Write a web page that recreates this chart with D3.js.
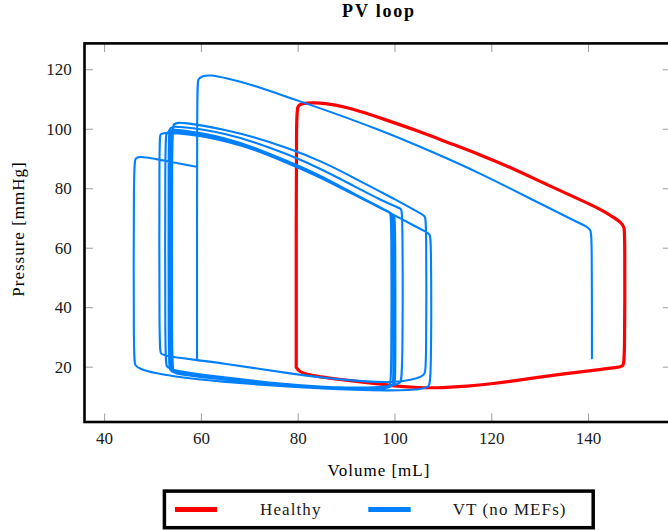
<!DOCTYPE html>
<html>
<head>
<meta charset="utf-8">
<script src="https://cdn.jsdelivr.net/npm/d3@7"></script>
<style>
  html, body { margin: 0; padding: 0; background: #fff; }
  svg { display: block; }
  svg text { font-family: "Liberation Serif", "Times New Roman", "DejaVu Serif", serif; }
</style>
</head>
<body>
<svg id="chart" width="668" height="530"></svg>
<script>
// ---------- data ----------
const xTicks = [40, 60, 80, 100, 120, 140];
const yTicks = [20, 40, 60, 80, 100, 120];
const seriesNames = ["Healthy", "VT (no MEFs)"];
const seriesColors = ["#ff0000", "#0080ff"];

// Healthy PV loop [volume mL, pressure mmHg]
const healthyLoop = [
  [79.7, 19.8], [79.7, 60], [79.7, 106.3], [80.1, 107.9], [81.2, 108.6], [83, 108.8], [86, 108.5],
  [90, 107.3], [94, 105.3], [97.1, 103.6], [105, 99.2], [111, 95.4], [117.8, 91.2], [124, 87.0],
  [131, 81.6], [138.4, 76.1], [142.5, 73.0], [145.3, 70.2], [146.9, 68.4], [147.5, 66.8],
  [147.6, 64.5], [147.6, 21.2], [147.2, 20.2], [146, 19.7], [140, 18.6], [135, 17.6], [130, 16.5],
  [125, 15.3], [120, 14.2], [115, 13.4], [110, 12.9], [105, 12.9], [100, 13.5], [95, 14.5],
  [88.8, 15.7], [84.5, 16.6], [81.8, 17.4], [80.3, 18.4], [79.7, 19.8]
];

// VT first (transient) beat
const vtFirstBeat = [
  [140.8, 22.8], [140.8, 64.6], [140.5, 66.0], [139.6, 67.2], [138.4, 68.1], [130, 74.9],
  [117.8, 85.0], [108, 92.1], [97.1, 99.6], [84.7, 106.9], [79.2, 109.9], [70.9, 114.7],
  [65, 117.1], [61.9, 118.1], [60.3, 117.8], [59.4, 116.7], [59.2, 114.8], [59.2, 22.2]
];

// VT following beats
const vtBeats = [
  [59.2, 87.2], [55, 88.5], [51, 89.7], [48.6, 90.4], [47.3, 90.6], [46.5, 90.1], [46.1, 88.8],
  [46.1, 22.0], [46.4, 20.4], [47.3, 19.3], [50.2, 17.9], [56, 16.3], [64, 15.0], [75, 13.6],
  [84.7, 12.7], [92, 12.2], [98.5, 12.0], [103, 12.1], [105.8, 12.5], [107.1, 13.3], [107.6, 14.8],
  [107.6, 63.2], [107.3, 64.5], [106.5, 65.4], [104, 67.4], [101.9, 69.3], [98, 72.6], [95, 75.2],
  [90, 79.6], [84.7, 84.3], [78, 89.1], [70.9, 93.7], [65, 96.6], [60, 98.5], [56, 99.5],
  [54.2, 99.8], [53.5, 99.2], [53.3, 97.8],
  [53.3, 20.0], [53.6, 18.7], [54.8, 17.9], [60, 17.0], [64, 16.3], [70, 15.1], [77, 14.0],
  [84.7, 13.1], [92, 12.6], [97, 12.7], [99.4, 13.3], [100.1, 14.2], [100.2, 15.5],
  [100.2, 69.8], [99.9, 71.0], [99.2, 71.7], [97.1, 73.5], [92, 77.9], [84.7, 84.1], [78, 88.9],
  [70.9, 93.9], [65, 96.8], [60, 98.6], [56, 99.5], [54.4, 99.8], [53.8, 99.3], [53.6, 98.0],
  [53.6, 19.3], [53.9, 18.3], [55.2, 17.7], [60, 16.7], [64, 16.0], [70, 14.9], [77, 13.8],
  [84.7, 12.9], [92, 12.4], [97, 12.4], [99.1, 13.0], [99.7, 13.9], [99.8, 15.2],
  [99.8, 70.3], [99.5, 71.4], [98.8, 72.0], [97.1, 73.4], [92, 77.7], [84.7, 83.9], [78, 88.6],
  [70.9, 93.4], [65, 96.3], [60, 98.1], [56, 99.0], [53.8, 99.3], [52.9, 98.8], [52.6, 97.6],
  [52.6, 21.5], [52.9, 19.9], [54, 18.9], [58, 17.8], [64, 16.6], [70, 15.4], [77, 14.2],
  [84.7, 13.3], [92, 12.7], [97, 12.7], [99.0, 13.3], [99.4, 14.4],
  [99.4, 70.9], [99.1, 71.9], [98.4, 72.5], [97.1, 73.3], [92, 77.5], [84.7, 83.7], [78, 88.4],
  [70.9, 93.2], [65, 95.9], [60, 97.6], [55, 98.5], [52.4, 98.7], [51.6, 98.2], [51.4, 96.9],
  [51.4, 25.3], [51.7, 24.3], [52.8, 23.6], [56, 22.9], [59.2, 22.2], [64.7, 21.1], [71.6, 19.4],
  [78.5, 17.7], [85, 16.3], [92, 15.2], [98, 14.7], [102, 15.1], [104.8, 16.1], [106.2, 17.2],
  [106.6, 18.7],
  [106.6, 69.4], [106.3, 70.6], [105.6, 71.3], [104, 72.8], [100, 76.4], [96, 79.7], [90, 84.9],
  [84.7, 89.2], [78, 93.5], [70.9, 97.3], [65, 99.6], [60, 101.2], [57, 101.9], [55.2, 102.1],
  [54.4, 101.6], [54.0, 100.4],
  [54.0, 19.2], [54.3, 18.1], [55.5, 17.4], [60, 16.5], [64, 15.8], [70, 14.8], [77, 13.9],
  [84.7, 13.2], [92, 12.9], [97, 13.1], [100, 13.7], [101.2, 14.5], [101.7, 15.9],
  [101.7, 71.9], [101.4, 73.0], [100.6, 73.6], [97.1, 76.1], [92, 80.4], [84.7, 86.6], [78, 91.4],
  [70.9, 95.7], [65, 98.3], [60, 99.9], [56, 100.6], [54.3, 100.8], [53.6, 100.2], [53.3, 98.8]
];

// ---------- layout ----------
const svg = d3.select("#chart");
const plot = { left: 84.5, right: 671.3, top: 43.4, bottom: 422 };

const x = d3.scaleLinear().domain([35.95, 157.2]).range([plot.left, plot.right]);
const y = d3.scaleLinear().domain([1.4, 128.7]).range([plot.bottom, plot.top]);

const tickLen = 8.5;
const tickColor = "#a6a6a6";
const fontStack = "'Liberation Serif', 'Times New Roman', 'DejaVu Serif', serif";

function styleAxis(g) {
  g.attr("font-family", null).attr("font-size", null);
  g.select(".domain").remove();
  g.selectAll(".tick line").attr("stroke", tickColor).attr("stroke-width", 1.1);
  g.selectAll(".tick text").attr("fill", "#1a1a1a")
    .style("font-size", "17px").style("font-family", fontStack);
}

svg.append("g").attr("transform", `translate(0,${plot.bottom})`)
  .call(d3.axisBottom(x).tickValues(xTicks).tickSize(-tickLen).tickPadding(9.5))
  .call(styleAxis);
svg.append("g").attr("transform", `translate(0,${plot.top})`)
  .call(d3.axisTop(x).tickValues(xTicks).tickSize(-tickLen).tickFormat(""))
  .call(styleAxis);
svg.append("g").attr("transform", `translate(${plot.left},0)`)
  .call(d3.axisLeft(y).tickValues(yTicks).tickSize(-tickLen).tickPadding(12.8))
  .call(styleAxis);
svg.append("g").attr("transform", `translate(${plot.right},0)`)
  .call(d3.axisRight(y).tickValues(yTicks).tickSize(-tickLen).tickFormat(""))
  .call(styleAxis);

// ---------- lines ----------
const line = d3.line()
  .x(d => x(d[0])).y(d => y(d[1]))
  .curve(d3.curveBasis);

svg.append("path").datum(healthyLoop)
  .attr("d", line).attr("fill", "none")
  .attr("stroke", seriesColors[0]).attr("stroke-width", 3.2)
  .attr("stroke-linejoin", "round").attr("stroke-linecap", "round");

[vtFirstBeat, vtBeats].forEach(arr => {
  svg.append("path").datum(arr)
    .attr("d", line).attr("fill", "none")
    .attr("stroke", seriesColors[1]).attr("stroke-width", 2.1)
    .attr("stroke-linejoin", "round").attr("stroke-linecap", "round");
});

// frame
svg.append("rect")
  .attr("x", plot.left).attr("y", plot.top)
  .attr("width", plot.right - plot.left).attr("height", plot.bottom - plot.top)
  .attr("fill", "none").attr("stroke", "#000").attr("stroke-width", 2.6);

// ---------- titles ----------
svg.append("text")
  .attr("x", 379).attr("y", 17)
  .attr("text-anchor", "middle")
  .style("font-size", "18px").style("font-weight", "bold")
  .style("letter-spacing", "1.8px")
  .text("PV loop");

svg.append("text")
  .attr("x", 379).attr("y", 476)
  .attr("text-anchor", "middle")
  .style("font-size", "17px").style("letter-spacing", "1px")
  .text("Volume [mL]");

svg.append("text")
  .attr("transform", "translate(24,229) rotate(-90)")
  .attr("text-anchor", "middle")
  .style("font-size", "17px").style("letter-spacing", "1px")
  .text("Pressure [mmHg]");

// ---------- legend ----------
const legend = svg.append("g");
legend.append("rect")
  .attr("x", 164.4).attr("y", 491.1)
  .attr("width", 593.2 - 164.4).attr("height", 527.7 - 491.1)
  .attr("fill", "#fff").attr("stroke", "#000").attr("stroke-width", 3.5);

const legendItems = [
  { name: seriesNames[0], color: seriesColors[0], x0: 175, x1: 217, tx: 260 },
  { name: seriesNames[1], color: seriesColors[1], x0: 368.3, x1: 410.7, tx: 452.7 }
];
legendItems.forEach(it => {
  legend.append("line")
    .attr("x1", it.x0).attr("x2", it.x1).attr("y1", 509.6).attr("y2", 509.6)
    .attr("stroke", it.color).attr("stroke-width", 5);
  legend.append("text")
    .attr("x", it.tx).attr("y", 514.5)
    .style("font-size", "17px").style("letter-spacing", "1.1px")
    .attr("fill", "#1a1a1a")
    .text(it.name);
});
</script>
</body>
</html>
